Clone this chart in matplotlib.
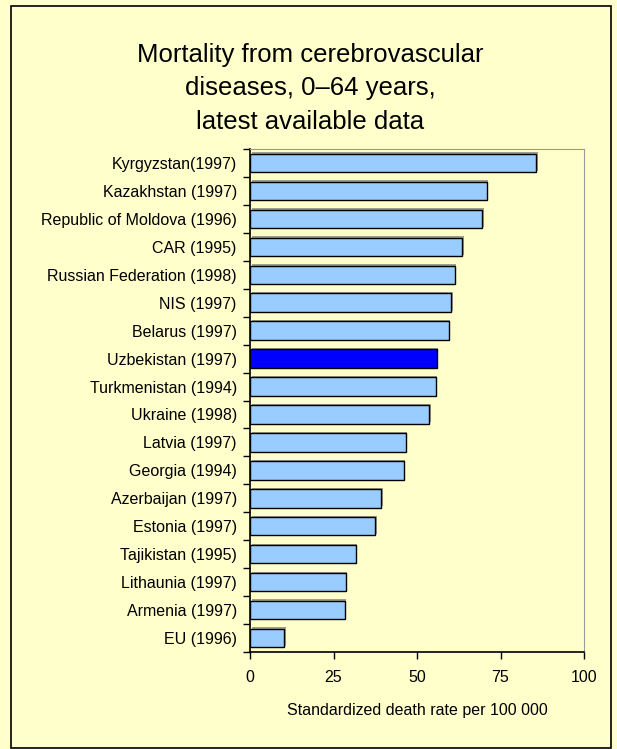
import matplotlib

matplotlib.use("Agg")
import matplotlib.pyplot as plt
import matplotlib.patheffects as pe
from matplotlib.patches import Rectangle

plt.rcParams["font.family"] = ["Liberation Sans", "DejaVu Sans"]

countries = [
    "Kyrgyzstan(1997)", "Kazakhstan (1997)", "Republic of Moldova (1996)",
    "CAR (1995)", "Russian Federation (1998)", "NIS (1997)", "Belarus (1997)",
    "Uzbekistan (1997)", "Turkmenistan (1994)", "Ukraine (1998)",
    "Latvia (1997)", "Georgia (1994)", "Azerbaijan (1997)", "Estonia (1997)",
    "Tajikistan (1995)", "Lithaunia (1997)", "Armenia (1997)", "EU (1996)",
]
rates = [85.7, 70.9, 69.6, 63.6, 61.3, 60.3, 59.5, 55.9, 55.6, 53.7,
         46.6, 46.0, 39.3, 37.5, 31.6, 28.6, 28.3, 10.3]
highlight = "Uzbekistan (1997)"
xticks = [0, 25, 50, 75, 100]

bg = "#FFFFCC"
W, H = 617, 749
fig = plt.figure(figsize=(W / 100, H / 100), dpi=100, facecolor=bg)

# outer frame
fig.patches.append(Rectangle((11 / W, 1.5 / H), 600 / W, 741.5 / H,
                             transform=fig.transFigure, fill=False,
                             edgecolor="black", linewidth=1.2))

fig.text(0.503, 0.882, "Mortality from cerebrovascular\ndiseases, 0\u201364 years,\nlatest available data",
         ha="center", va="center", fontsize=18.5, linespacing=1.5)

ax = fig.add_axes([250 / W, 1 - 652 / H, 334 / W, 503 / H], facecolor=bg)

n = len(countries)
ypos = list(range(n - 1, -1, -1))
colors = ["#0000FF" if c == highlight else "#99CCFF" for c in countries]
bars = ax.barh(ypos, rates, height=0.66, color=colors, edgecolor="black",
               linewidth=1.0, zorder=3)
for b in bars:
    b.set_path_effects([pe.SimplePatchShadow(offset=(1.2, 1.0), shadow_rgbFace="#777777", alpha=0.7),
                        pe.Normal()])

ax.set_xlim(0, 100)
ax.set_ylim(-0.5, n - 0.5)
ax.set_xticks(xticks)
ax.set_xticklabels([str(t) for t in xticks], fontsize=11.5)

ax.set_yticks(ypos)
ax.set_yticklabels(countries, fontsize=11.5)
ax.set_yticks([i - 0.5 for i in range(n + 1)], minor=True)
ax.tick_params(axis="y", which="major", length=0, pad=9.5)
ax.tick_params(axis="y", which="minor", length=5, width=1, direction="out")
ax.tick_params(axis="x", length=5, width=1, direction="out", pad=8)

for s in ("top", "right"):
    ax.spines[s].set_color("#999999")
for s in ("left", "bottom"):
    ax.spines[s].set_color("black")
    ax.spines[s].set_linewidth(1.2)

ax.set_xlabel("Standardized death rate per 100 000", fontsize=11.5, labelpad=13)

fig.savefig("out.png", dpi=100, facecolor=bg)
